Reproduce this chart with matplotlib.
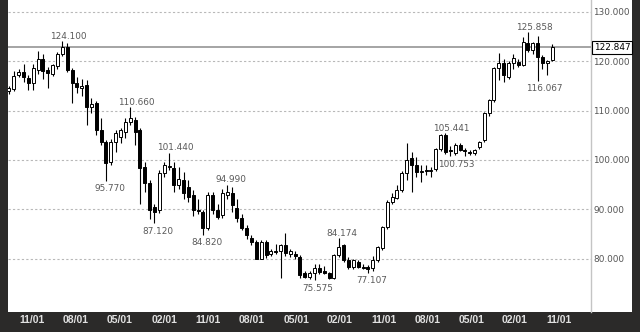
import matplotlib.pyplot as plt
from matplotlib.patches import Rectangle

# OHLC values (one candle per entry)
opens = [114.0, 114.4, 117.2, 117.8, 116.6, 115.6, 118.2, 120.5, 118.2, 117.4,
         119.0, 121.5, 122.9, 118.2, 115.6, 114.6, 115.2, 110.7, 111.5, 106.0,
         103.6, 99.6, 103.6, 104.6, 105.7, 107.7, 108.1, 106.0, 98.6, 95.3,
         90.4, 89.8, 97.3, 98.5, 98.4, 94.9, 95.9, 94.5, 92.9, 89.8,
         89.4, 86.2, 92.9, 89.8, 88.8, 92.9, 93.3, 90.3, 88.2, 86.2,
         84.2, 83.4, 80.0, 83.4, 81.0, 81.5, 81.5, 82.7, 80.9, 80.9,
         80.3, 77.0, 76.2, 77.0, 78.0, 77.5, 77.0, 76.0, 80.7, 82.7,
         79.7, 78.2, 79.3, 78.3, 78.3, 78.0, 79.7, 82.1, 86.4, 91.5,
         92.3, 93.9, 97.3, 100.4, 99.0, 97.6, 97.9, 97.8, 98.2, 102.2,
         105.0, 102.1, 101.4, 103.0, 102.0, 101.6, 101.4, 102.6, 104.0, 109.5,
         112.1, 118.6, 119.6, 116.8, 119.6, 119.8, 119.2, 123.7, 122.3, 123.7,
         120.9, 119.6, 120.3]
highs = [115.0, 118.0, 118.5, 119.5, 117.2, 119.5, 122.0, 121.5, 118.8, 119.5,
         121.8, 124.1, 123.7, 118.6, 116.8, 116.5, 116.2, 112.5, 112.0, 108.5,
         104.0, 104.2, 106.0, 106.5, 108.5, 110.66, 108.8, 106.5, 99.5, 96.0,
         91.0, 98.0, 99.5, 101.44, 99.5, 98.5, 97.5, 96.0, 93.8, 92.0,
         89.8, 93.5, 93.5, 91.0, 94.0, 94.99, 94.5, 92.0, 89.0, 86.8,
         84.8, 83.8, 83.8, 83.8, 82.0, 83.0, 83.0, 85.2, 82.0, 81.5,
         80.8, 77.5, 77.5, 78.8, 78.8, 78.5, 77.3, 81.0, 84.174, 83.0,
         80.3, 79.8, 79.6, 78.8, 78.6, 80.5, 82.6, 86.6, 91.8, 93.2,
         95.0, 97.8, 103.4, 101.5, 100.5, 99.0, 99.0, 98.5, 102.5, 105.2,
         105.441, 102.8, 103.5, 103.5, 102.5, 102.0, 102.3, 103.8, 109.8, 112.3,
         118.9, 121.7, 120.5, 120.0, 121.5, 120.5, 124.9, 125.858, 124.0, 125.2,
         121.3, 120.3, 123.5]
lows = [113.3, 114.0, 116.8, 115.8, 114.2, 114.2, 117.5, 116.5, 114.6, 117.0,
        118.5, 121.0, 117.8, 111.5, 113.5, 113.0, 107.0, 109.5, 105.0, 103.0,
        95.77, 99.0, 101.5, 103.5, 104.5, 107.0, 103.0, 91.0, 93.5, 88.0,
        87.12, 89.2, 96.5, 98.0, 93.5, 94.0, 92.0, 91.5, 88.6, 89.0,
        84.82, 85.8, 89.0, 88.0, 88.2, 92.0, 89.5, 87.5, 85.8, 84.0,
        82.8, 79.8, 79.8, 80.2, 80.5, 81.0, 76.0, 80.5, 80.3, 80.0,
        76.0, 76.0, 75.8, 75.575, 76.8, 76.8, 75.8, 75.8, 80.3, 79.3,
        77.8, 77.8, 78.0, 77.8, 77.107, 77.5, 79.3, 81.8, 86.0, 91.0,
        92.0, 93.5, 96.0, 93.5, 96.5, 95.6, 97.0, 96.5, 97.8, 101.8,
        101.2, 100.753, 101.0, 101.8, 100.8, 101.0, 101.0, 102.2, 103.6, 109.0,
        111.8, 116.3, 115.8, 116.5, 118.5, 118.8, 119.0, 121.8, 121.5, 116.067,
        118.5, 117.3, 120.0]
closes = [114.6, 117.0, 117.8, 116.8, 115.6, 118.6, 120.5, 118.0, 117.6, 119.2,
          121.5, 122.9, 118.2, 115.6, 114.8, 114.9, 110.7, 111.3, 106.0, 103.6,
          99.4, 103.6, 105.5, 106.0, 107.7, 108.5, 105.7, 98.4, 95.3, 89.8,
          89.4, 97.3, 99.0, 98.8, 94.9, 96.1, 93.3, 92.5, 89.8, 89.6,
          86.2, 92.9, 89.8, 88.4, 93.3, 93.5, 90.9, 88.2, 86.2, 84.8,
          83.4, 80.0, 83.4, 80.7, 81.5, 81.4, 82.7, 81.1, 81.5, 80.6,
          76.7, 76.2, 77.0, 78.0, 77.2, 77.0, 76.0, 80.7, 82.3, 79.7,
          78.2, 79.7, 78.2, 78.0, 77.9, 79.7, 82.3, 86.4, 91.5, 92.5,
          93.9, 97.3, 100.0, 99.0, 97.6, 97.8, 97.8, 98.0, 102.2, 105.0,
          101.6, 101.9, 103.0, 102.0, 101.8, 101.4, 102.0, 103.6, 109.5, 112.1,
          118.6, 119.6, 117.2, 119.6, 120.6, 119.2, 123.9, 122.3, 123.7, 120.9,
          119.6, 120.0, 122.847]

# swing labels: candle index and whether it marks a high or a low
high_marks = [11, 25, 33, 45, 68, 90, 107]
low_marks = [20, 30, 40, 63, 74, 91, 109]

last_price = 122.847
yticks = [80, 90, 100, 110, 120, 130]
xtick_pos = [4.7, 13.8, 22.9, 32.0, 41.0, 50.1, 59.2, 68.2, 77.3, 86.4, 95.3, 104.3, 113.4]
xtick_labels = ['11/01', '08/01', '05/01', '02/01', '11/01', '08/01', '05/01',
                '02/01', '11/01', '08/01', '05/01', '02/01', '11/01']

W, H = 640, 332
fig = plt.figure(figsize=(W / 100, H / 100), dpi=100, facecolor='#2b2a29')
# white chart panel inside the dark frame
fig.patches.append(Rectangle((8 / W, 20 / H), 624 / W, 312 / H, transform=fig.transFigure,
                             facecolor='white', edgecolor='none', zorder=-5))
ax = fig.add_axes([8 / W, 20 / H, 583 / W, 312 / H])
ax.set_facecolor('white')

n = len(opens)
xs = list(range(n))
ax.vlines(xs, lows, highs, color='black', lw=0.8, zorder=2)
bottoms = [min(o, c) for o, c in zip(opens, closes)]
heights = [max(abs(c - o), 0.12) for o, c in zip(opens, closes)]
colors = ['white' if c >= o else 'black' for o, c in zip(opens, closes)]
ax.bar(xs, heights, bottom=bottoms, width=0.62, color=colors, edgecolor='black',
       linewidth=0.7, zorder=3)

ax.axhline(last_price, color='#8c8c8c', lw=1.1, zorder=1)

for i in high_marks:
    ax.annotate(f'{highs[i]:.3f}', (i, highs[i]), xytext=(-8.6, 0.3), textcoords='offset points',
                ha='left', va='bottom', fontsize=6.4, color='#5a5a5a')
for i in low_marks:
    ax.annotate(f'{lows[i]:.3f}', (i, lows[i]), xytext=(-8.6, -2.6), textcoords='offset points',
                ha='left', va='top', fontsize=6.4, color='#5a5a5a')

ax.set_xlim(-0.2, 120.0)
ax.set_ylim(69.15, 132.43)
ax.set_yticks(yticks)
ax.set_yticklabels([f'{v:.3f}' for v in yticks])
ax.yaxis.tick_right()
ax.tick_params(axis='y', length=0, pad=1.5, labelsize=6.4, labelcolor='#555555')
ax.set_xticks(xtick_pos)
ax.set_xticklabels(xtick_labels)
ax.tick_params(axis='x', length=0, pad=2.3, labelsize=7.5, labelcolor='#e0e0e0')
for lab in ax.get_xticklabels():
    lab.set_fontfamily('Liberation Sans')
    lab.set_fontweight('bold')

ax.grid(axis='y', linestyle=(0, (2, 2)), color='#b8b8b8', lw=0.8)
ax.set_axisbelow(True)
for s in ['left', 'top', 'bottom']:
    ax.spines[s].set_visible(False)
ax.spines['right'].set_color('#c4c4c4')
ax.spines['right'].set_linewidth(1)

ax.annotate(f'{last_price:.3f}', (1.0, last_price), xycoords=('axes fraction', 'data'),
            xytext=(2.2, 0), textcoords='offset points', ha='left', va='center',
            fontsize=6.4, color='black', zorder=5, annotation_clip=False,
            bbox=dict(boxstyle='square,pad=0.2', fc='white', ec='black', lw=0.8))

fig.savefig('out.png', dpi=100, facecolor=fig.get_facecolor())
